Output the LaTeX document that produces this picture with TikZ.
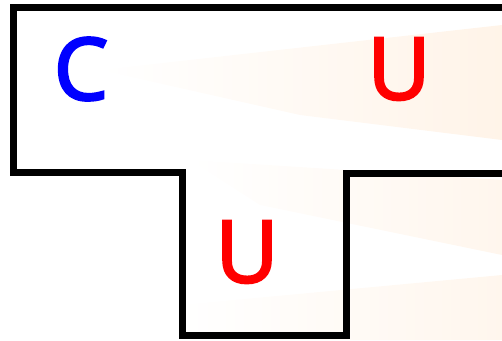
\documentclass[tikz,border=0pt]{standalone}
\usepackage{fontspec}
\setmainfont{Open Sans}
\newfontfamily\letterfont{Open Sans}[FakeBold=3]
\usepackage{tikz}
\usetikzlibrary{positioning}

\tikzset{
  letter/.style={font=\letterfont\fontsize{86}{86}\selectfont, inner sep=0pt},
  outline/.style={line width=7pt, line join=miter}
}

\begin{document}
\begin{tikzpicture}[x=1pt,y=-1pt]
        \useasboundingbox (0,0) rectangle (502,340);
        % faint background
        \shade[left color=white, right color=orange!9] (100,70) -- (502,25) -- (502,140) -- (300,115) -- cycle;
        \shade[left color=white, right color=orange!7] (190,160) -- (502,180) -- (502,255) -- (260,205) -- cycle;
        \shade[left color=white, right color=orange!7] (180,305) -- (502,275) -- (502,340) -- (180,340) -- cycle;

        \draw[outline] (502,7) -- (13,7) -- (13,172) -- (182,172) -- (182,335)
              -- (346,335) -- (346,173) -- (502,173);

        \node[letter, text=blue] (c) at (81,69) {C};
        \node[letter, text=red] (u) at (399,69) {U};
        \node[letter, text=red] (l) at (247,252) {U};
    \end{tikzpicture}
\end{document}
